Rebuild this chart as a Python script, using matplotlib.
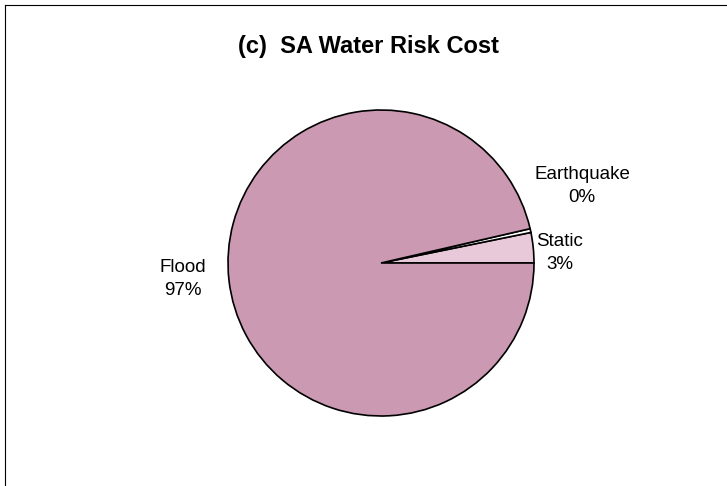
import matplotlib
matplotlib.use('Agg')
import matplotlib.pyplot as plt
from matplotlib.lines import Line2D

# data
categories = ['Static', 'Earthquake', 'Flood']
shares = [3.2, 0.4, 96.4]
pct_labels = ['3%', '0%', '97%']
colors = ['#E8C9D9', '#FFFFFF', '#CC99B3']

# label anchor points in pixel space (y from the top)
label_pos = [(560, 253), (582, 186), (183, 279)]

W, H = 727, 486
fig = plt.figure(figsize=(W / 100, H / 100), dpi=100)
ax = fig.add_axes([0, 0, 1, 1])

ax.pie(shares, colors=colors, startangle=0, counterclock=True,
       center=(381, H - 263), radius=153, frame=True,
       wedgeprops=dict(edgecolor='black', linewidth=1.2))
ax.set_xlim(0, W)
ax.set_ylim(0, H)
ax.set_aspect('equal')
ax.axis('off')

for name, pct, (x, y) in zip(categories, pct_labels, label_pos):
    ax.text(x, H - y, name + '\n' + pct, ha='center', va='center',
            fontsize=13.5, family='Liberation Sans', linespacing=1.5)

fig.text(369 / W, 1 - 46 / H, '(c)  SA Water Risk Cost', ha='center', va='center',
         fontsize=17, fontweight='bold', family='Liberation Sans')

# chart-area frame: top and left edges only
fig.add_artist(Line2D([5 / W, 1], [1 - 5 / H, 1 - 5 / H], color='black', lw=0.8))
fig.add_artist(Line2D([5 / W, 5 / W], [0, 1 - 5 / H], color='black', lw=0.8))

fig.savefig('out.png', dpi=100)
